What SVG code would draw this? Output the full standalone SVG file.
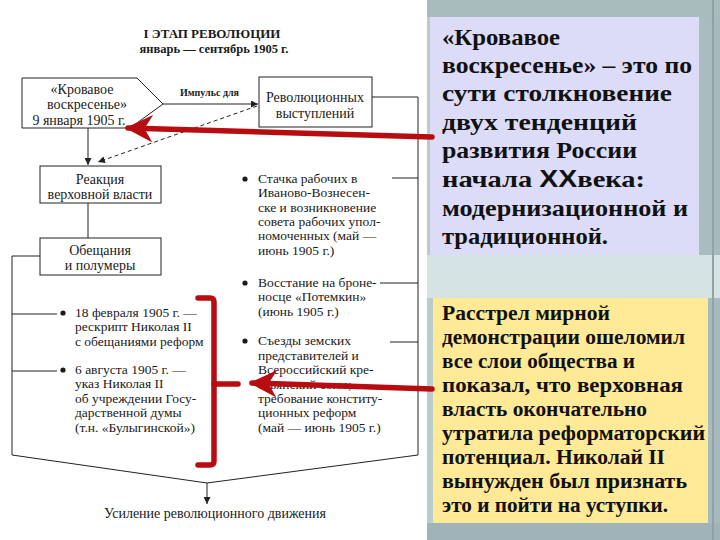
<svg xmlns="http://www.w3.org/2000/svg" width="720" height="540" viewBox="0 0 720 540">
<defs>
<style>
.d{font-family:"Liberation Serif","DejaVu Serif",serif;fill:#1a1a1a}
.b{font-size:14px}
.i{font-size:13.5px}
.t{font-weight:bold}
.ln{stroke:#222;stroke-width:1;fill:none}
.bx{stroke:#222;stroke-width:1;fill:#fff}
.red{stroke:#b80d10;stroke-width:5.5;fill:none;stroke-linecap:round;stroke-linejoin:round}
.p{font-family:"Liberation Serif","DejaVu Serif",serif;font-weight:bold;fill:#111}
.pa{font-size:24px}
.pb{font-size:20px}
</style>
<marker id="ah" viewBox="0 0 10 10" refX="10" refY="5" markerWidth="7" markerHeight="7" orient="auto" markerUnits="userSpaceOnUse"><path d="M0,0 L10,5 L0,10 z" fill="#222"/></marker>
<marker id="rh" viewBox="0 0 10 10" refX="9" refY="5" markerWidth="5" markerHeight="5" orient="auto"><path d="M0,0 L10,5 L0,10 L3,5 z" fill="#b80d10"/></marker>
<linearGradient id="pg" x1="0" y1="0" x2="1" y2="0">
<stop offset="0" stop-color="#b9cbcb"/><stop offset="0.5" stop-color="#c7d6d7"/><stop offset="1" stop-color="#a6b9bd"/>
</linearGradient>
</defs>
<rect width="720" height="540" fill="#fff"/>

<!-- right panel background -->
<g id="panel">
<rect x="427" y="0" width="293" height="540" fill="url(#pg)"/>
<rect x="427" y="0" width="293" height="17" fill="#a9bcbd"/>
<rect x="427" y="255" width="293" height="43" fill="#d6e3e3"/>
<rect x="427" y="523" width="293" height="17" fill="#9fb3b8"/>
<line x1="713" y1="0" x2="713" y2="540" stroke="#8ea2a7" stroke-width="2"/>
</g>

<g id="note1">
<rect x="430" y="17" width="269" height="238" fill="#dcdcf8"/>
<g class="p pa">
<text x="442" y="45" textLength="118" lengthAdjust="spacingAndGlyphs">«Кровавое</text>
<text x="442" y="73" textLength="250" lengthAdjust="spacingAndGlyphs">воскресенье» – это по</text>
<text x="442" y="101" textLength="230" lengthAdjust="spacingAndGlyphs">сути столкновение</text>
<text x="442" y="130" textLength="195" lengthAdjust="spacingAndGlyphs">двух тенденций</text>
<text x="442" y="158" textLength="195" lengthAdjust="spacingAndGlyphs">развития России</text>
<text x="442" y="187" textLength="203" lengthAdjust="spacingAndGlyphs">начала <tspan font-family="'Liberation Sans',sans-serif">XX</tspan>века:</text>
<text x="442" y="216" textLength="246" lengthAdjust="spacingAndGlyphs">модернизационной и</text>
<text x="442" y="244" textLength="166" lengthAdjust="spacingAndGlyphs">традиционной.</text>
</g>
</g>

<g id="note2">
<rect x="433" y="298" width="275" height="225" fill="#fde996"/>
<g class="p pb">
<text x="442" y="320" textLength="168" lengthAdjust="spacingAndGlyphs">Расстрел мирной</text>
<text x="442" y="344" textLength="243" lengthAdjust="spacingAndGlyphs">демонстрации ошеломил</text>
<text x="442" y="368" textLength="193" lengthAdjust="spacingAndGlyphs">все слои общества и</text>
<text x="442" y="392" textLength="241" lengthAdjust="spacingAndGlyphs">показал, что верховная</text>
<text x="442" y="416" textLength="205" lengthAdjust="spacingAndGlyphs">власть окончательно</text>
<text x="442" y="440" textLength="263" lengthAdjust="spacingAndGlyphs">утратила реформаторский</text>
<text x="442" y="464" textLength="223" lengthAdjust="spacingAndGlyphs">потенциал. Николай II</text>
<text x="442" y="488" textLength="245" lengthAdjust="spacingAndGlyphs">вынужден был признать</text>
<text x="442" y="512" textLength="226" lengthAdjust="spacingAndGlyphs">это и пойти на уступки.</text>
</g>
</g>

<g id="title" class="d t" text-anchor="middle">
<text x="212" y="38" font-size="13">I ЭТАП РЕВОЛЮЦИИ</text>
<text x="214" y="53" font-size="12.5">январь — сентябрь 1905 г.</text>
</g>

<g id="connectors">
<line class="ln" x1="163" y1="104" x2="258" y2="104" marker-end="url(#ah)"/>
<line class="ln" x1="257" y1="106" x2="98" y2="162" stroke-dasharray="4,3" marker-end="url(#ah)"/>
<line class="ln" x1="88" y1="128" x2="88" y2="165" marker-end="url(#ah)"/>
<line class="ln" x1="88" y1="203" x2="88" y2="238"/>
<polyline class="ln" points="372,97 418,97 418,455 207,483 12,455 12,256 40,256"/>
<line class="ln" x1="12" y1="314" x2="57" y2="314"/>
<line class="ln" x1="12" y1="371" x2="57" y2="371"/>
<line class="ln" x1="392" y1="178" x2="418" y2="178"/>
<line class="ln" x1="380" y1="283" x2="418" y2="283"/>
<line class="ln" x1="390" y1="342" x2="418" y2="342" stroke="#999"/>
<line class="ln" x1="207" y1="483" x2="207" y2="504" marker-end="url(#ah)"/>
<text class="d t" x="180" y="96" font-size="10">Импульс для</text>
</g>

<g id="n-sunday">
<polygon class="bx" points="22,78 137,78 163,104 130,128 22,128"/>
<g class="d b" text-anchor="middle">
<text x="82" y="94">«Кровавое</text>
<text x="87" y="109">воскресенье»</text>
<text x="79" y="125">9 января 1905 г.</text>
</g>
</g>

<g id="n-revol">
<rect class="bx" x="259" y="77" width="113" height="50"/>
<g class="d b" text-anchor="middle">
<text x="315" y="102">Революционных</text>
<text x="315" y="118">выступлений</text>
</g>
</g>

<g id="n-reaction">
<rect class="bx" x="40" y="166" width="121" height="37"/>
<g class="d b" text-anchor="middle">
<text x="100" y="184">Реакция</text>
<text x="100" y="199">верховной власти</text>
</g>
</g>

<g id="n-promises">
<rect class="bx" x="40" y="238" width="121" height="37"/>
<g class="d b" text-anchor="middle">
<text x="100" y="255">Обещания</text>
<text x="100" y="270">и полумеры</text>
</g>
</g>

<g id="n-left-items" class="d i">
<circle cx="63" cy="313" r="2.6" fill="#1a1a1a"/>
<text x="75" y="317">18 февраля 1905 г. —</text>
<text x="75" y="331">рескрипт Николая II</text>
<text x="75" y="346">с обещаниями реформ</text>
<circle cx="63" cy="370" r="2.6" fill="#1a1a1a"/>
<text x="75" y="374">6 августа 1905 г. —</text>
<text x="75" y="388">указ Николая II</text>
<text x="75" y="403">об учреждении Госу-</text>
<text x="75" y="417">дарственной думы</text>
<text x="75" y="432">(т.н. «Булыгинской»)</text>
</g>

<g id="n-right-items" class="d i">
<circle cx="245" cy="179" r="2.6" fill="#1a1a1a"/>
<text x="258" y="183">Стачка рабочих в</text>
<text x="258" y="197">Иваново-Вознесен-</text>
<text x="258" y="212">ске и возникновение</text>
<text x="258" y="226">совета рабочих упол-</text>
<text x="258" y="240">номоченных (май —</text>
<text x="258" y="255">июнь 1905 г.)</text>
<circle cx="245" cy="283" r="2.6" fill="#1a1a1a"/>
<text x="258" y="287">Восстание на броне-</text>
<text x="258" y="301">носце «Потемкин»</text>
<text x="258" y="316">(июнь 1905 г.)</text>
<circle cx="245" cy="341" r="2.6" fill="#1a1a1a"/>
<text x="258" y="345">Съезды земских</text>
<text x="258" y="360">представителей и</text>
<text x="258" y="374">Всероссийский кре-</text>
<text x="258" y="389">стьянский союз;</text>
<text x="258" y="403">требование конститу-</text>
<text x="258" y="417">ционных реформ</text>
<text x="258" y="432">(май — июнь 1905 г.)</text>
</g>

<g id="n-result">
<text class="d b" x="215" y="518" text-anchor="middle">Усиление революционного движения</text>
</g>

<g id="red-marks">
<line class="red" x1="432" y1="137" x2="128" y2="128" marker-end="url(#rh)"/>
<path class="red" d="M198,298 L210,298 Q214,298 214,302 L214,461 Q214,465 210,465 L198,465"/>
<line class="red" x1="214" y1="384" x2="238" y2="384"/>
<line class="red" x1="432" y1="389" x2="252" y2="383" marker-end="url(#rh)"/>
</g>
</svg>
